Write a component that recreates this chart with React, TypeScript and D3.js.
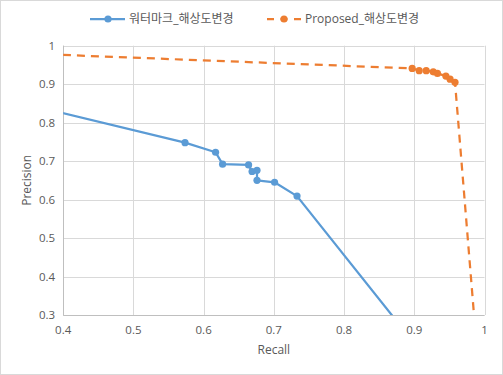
import React from "react";
import * as d3 from "d3";

const W = 503;
const H = 375;

const seriesNames = ["워터마크_해상도변경", "Proposed_해상도변경"];
const seriesColors = ["#5B9BD5", "#ED7D31"];

// Series 1 (blue): recall / precision
const blueRecall = [0.3, 0.5735, 0.617, 0.627, 0.664, 0.669, 0.676, 0.676, 0.701, 0.733, 0.95];
const bluePrecision = [0.869, 0.748, 0.723, 0.692, 0.690, 0.673, 0.676, 0.650, 0.645, 0.609, 0.112];

// Series 2 (orange): recall / precision
const orangeRecall = [0.3, 0.897, 0.907, 0.917, 0.927, 0.933, 0.945, 0.951, 0.958, 0.99];
const orangePrecision = [0.983, 0.941, 0.935, 0.935, 0.932, 0.928, 0.921, 0.913, 0.905, 0.19];

const xTicks = [0.4, 0.5, 0.6, 0.7, 0.8, 0.9, 1];
const yTicks = [0.3, 0.4, 0.5, 0.6, 0.7, 0.8, 0.9, 1];

const FONT = "'Open Sans', 'Noto Sans CJK KR', sans-serif";

export default function App() {
  const left = 63.2;
  const right = 484.5;
  const top = 45.7;
  const bottom = 315;

  const x = d3.scaleLinear().domain([0.4, 1]).range([left, right]);
  const y = d3.scaleLinear().domain([0.3, 1]).range([bottom, top]);

  const blue = blueRecall.map((r, i) => [r, bluePrecision[i]] as [number, number]);
  const orange = orangeRecall.map((r, i) => [r, orangePrecision[i]] as [number, number]);

  const line = d3
    .line<[number, number]>()
    .x((d) => x(d[0]))
    .y((d) => y(d[1]));

  const inRange = (d: [number, number]) => d[0] >= 0.4 && d[0] <= 1 && d[1] >= 0.3 && d[1] <= 1;

  const fmt = (v: number) => (v === 1 ? "1" : d3.format(".1f")(v));

  return (
    <svg
      width={W}
      height={H}
      style={{ position: "absolute", left: 0, top: 0, background: "#fff" }}
      fontFamily={FONT}
    >
      <defs>
        <clipPath id="plot">
          <rect x={left} y={top} width={right - left} height={bottom - top} />
        </clipPath>
      </defs>
      <rect x={0.5} y={0.5} width={W - 1} height={H - 1} fill="#fff" stroke="#D9D9D9" />

      {/* gridlines */}
      {yTicks.map((t) => (
        <line key={"gy" + t} x1={left} x2={right} y1={Math.round(y(t)) + 0.5} y2={Math.round(y(t)) + 0.5} stroke="#D9D9D9" strokeWidth={1} />
      ))}
      {xTicks.map((t) => (
        <line key={"gx" + t} x1={Math.round(x(t)) + 0.5} x2={Math.round(x(t)) + 0.5} y1={top} y2={bottom} stroke="#D9D9D9" strokeWidth={1} />
      ))}
      {/* axes */}
      <line x1={Math.round(left) + 0.5} x2={Math.round(left) + 0.5} y1={top} y2={bottom} stroke="#BFBFBF" />
      <line x1={left} x2={right} y1={Math.round(bottom) + 0.5} y2={Math.round(bottom) + 0.5} stroke="#BFBFBF" />

      {/* tick labels */}
      {yTicks.map((t) => (
        <text key={"ty" + t} x={left - 8} y={y(t)} dy="0.35em" textAnchor="end" fontSize={11.5} fill="#595959">
          {fmt(t)}
        </text>
      ))}
      {xTicks.map((t) => (
        <text key={"tx" + t} x={x(t)} y={bottom + 15} dy="0.35em" textAnchor="middle" fontSize={11.5} fill="#595959">
          {fmt(t)}
        </text>
      ))}

      {/* axis titles */}
      <text x={(left + right) / 2} y={350} dy="0.35em" textAnchor="middle" fontSize={12} fill="#595959">
        Recall
      </text>
      <text
        transform={`translate(27,${(top + bottom) / 2}) rotate(-90)`}
        dy="0.35em"
        textAnchor="middle"
        fontSize={12}
        fill="#595959"
      >
        Precision
      </text>

      {/* series */}
      <g clipPath="url(#plot)">
        <path d={line(blue) || ""} fill="none" stroke={seriesColors[0]} strokeWidth={2.25} strokeLinejoin="round" />
        <path d={line(orange) || ""} fill="none" stroke={seriesColors[1]} strokeWidth={2.25} strokeDasharray="8,6" />
      </g>
      {blue.filter(inRange).map((d, i) => (
        <circle key={"b" + i} cx={x(d[0])} cy={y(d[1])} r={3.6} fill={seriesColors[0]} />
      ))}
      {orange.filter(inRange).map((d, i) => (
        <circle key={"o" + i} cx={x(d[0])} cy={y(d[1])} r={3.6} fill={seriesColors[1]} />
      ))}

      {/* legend */}
      <line x1={90} x2={125} y1={19} y2={19} stroke={seriesColors[0]} strokeWidth={2.25} />
      <circle cx={108} cy={19} r={3.6} fill={seriesColors[0]} />
      <text x={129} y={19} dy="0.35em" fontSize={12} fill="#595959">
        {seriesNames[0]}
      </text>
      <line x1={267} x2={301} y1={19} y2={19} stroke={seriesColors[1]} strokeWidth={2.25} strokeDasharray="7,6.5" />
      <circle cx={284} cy={19} r={3.6} fill={seriesColors[1]} />
      <text x={305} y={19} dy="0.35em" fontSize={12} fill="#595959">
        {seriesNames[1]}
      </text>
    </svg>
  );
}
